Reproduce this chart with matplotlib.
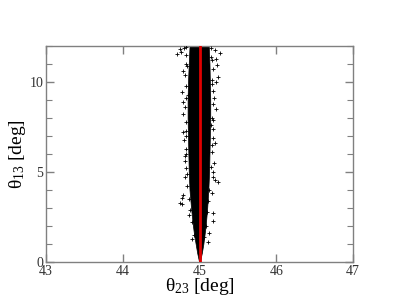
import matplotlib
matplotlib.use("Agg")
import matplotlib.pyplot as plt
from matplotlib.ticker import MultipleLocator

plt.rcParams['font.family'] = ['Liberation Serif', 'DejaVu Serif']
plt.rcParams['mathtext.fontset'] = 'custom'
plt.rcParams['mathtext.rm'] = 'Liberation Serif'
plt.rcParams['mathtext.it'] = 'Liberation Serif'

# dense core of the scatter cloud: theta13 levels and theta23 extents (deg)
core_t13 = [0, 0.5, 1, 1.5, 2, 3, 4, 5, 6, 7, 8, 9, 10, 11, 12]
core_left = [44.995, 44.97, 44.95, 44.93, 44.915, 44.89, 44.87, 44.86, 44.855, 44.85, 44.845, 44.845, 44.85, 44.86, 44.87]
core_right = [45.005, 45.03, 45.05, 45.065, 45.08, 45.10, 45.115, 45.125, 45.13, 45.135, 45.14, 45.14, 45.135, 45.13, 45.12]

# scattered points around the core (theta23, theta13)
out_t23 = [44.707, 44.759, 45.267, 45.228, 45.241, 44.772, 44.785, 45.189, 45.176, 44.811,
           45.176, 44.785, 44.772, 45.176, 44.772, 44.746, 45.241, 45.202, 45.163, 44.811,
           44.74, 44.80, 44.83, 45.15, 45.20, 45.22, 44.78, 45.21, 44.79, 45.20,
           44.80, 45.19, 44.82, 45.17, 44.86, 45.13, 44.90, 45.11, 44.78, 45.22,
           44.82, 44.81, 44.83, 44.82, 44.81, 44.82, 44.83, 44.82, 44.81, 44.84,
           45.16, 45.17, 45.16, 45.18, 45.17, 45.16, 45.18, 45.17, 45.16, 45.15,
           44.84, 44.86, 44.88, 44.90, 44.93, 45.12, 45.11, 45.10, 45.08, 45.06,
           44.83, 45.15, 44.84, 45.16, 44.85, 45.15, 44.82, 45.16, 44.83, 45.17]
out_t13 = [11.56, 11.67, 11.61, 10.94, 10.28, 9.44, 8.89, 9.11, 7.89, 5.89,
           4.72, 3.72, 3.22, 2.72, 3.56, 3.28, 4.44, 4.56, 3.83, 4.72,
           11.85, 11.9, 11.95, 11.9, 11.8, 11.3, 10.6, 10.0, 7.2, 6.6,
           6.8, 5.5, 5.2, 2.3, 2.6, 1.6, 1.3, 1.1, 8.2, 8.5,
           11.0, 10.4, 9.8, 9.1, 8.6, 7.8, 7.0, 6.3, 5.6, 4.9,
           11.2, 10.7, 10.1, 9.5, 8.8, 8.0, 7.4, 6.9, 6.1, 5.3,
           4.2, 3.5, 2.9, 2.2, 1.5, 4.0, 3.4, 2.8, 2.0, 1.4,
           11.5, 11.4, 10.9, 9.9, 9.3, 7.6, 7.3, 6.5, 6.0, 5.0]

# reference line
line_t23 = [45.0, 45.0]
line_t13 = [0, 12]

fig = plt.figure(figsize=(3.98, 3.08), dpi=100)
ax = fig.add_axes([46/398, 1-262/308, (353-46)/398, (262-46)/308])

ax.fill_betweenx(core_t13, core_left, core_right, color='black', linewidth=0.5, zorder=2)
ax.plot(out_t23, out_t13, linestyle='none', marker='+', markersize=3.5,
        markeredgewidth=0.6, color='black', zorder=3)
ax.plot(line_t23, line_t13, color='#e00000', linewidth=2, zorder=4)

ax.set_xlim(43, 47)
ax.set_ylim(0, 12)
ax.xaxis.set_major_locator(MultipleLocator(1))
ax.yaxis.set_major_locator(MultipleLocator(5))
ax.yaxis.set_minor_locator(MultipleLocator(1))

for s in ax.spines.values():
    s.set_color('#808080')
    s.set_linewidth(1.0)
ax.tick_params(which='both', direction='in', top=True, right=True, colors='#808080',
               labelcolor='#333333', labelsize=10, pad=2)
ax.tick_params(which='major', length=6, width=1)
ax.tick_params(which='minor', length=4, width=0.8)

ax.set_xlabel(r'$\theta_{23}$ [deg]', fontsize=14, labelpad=-1)
ax.set_ylabel(r'$\theta_{13}$ [deg]', fontsize=14, labelpad=1)

fig.savefig('out.png', dpi=100)
